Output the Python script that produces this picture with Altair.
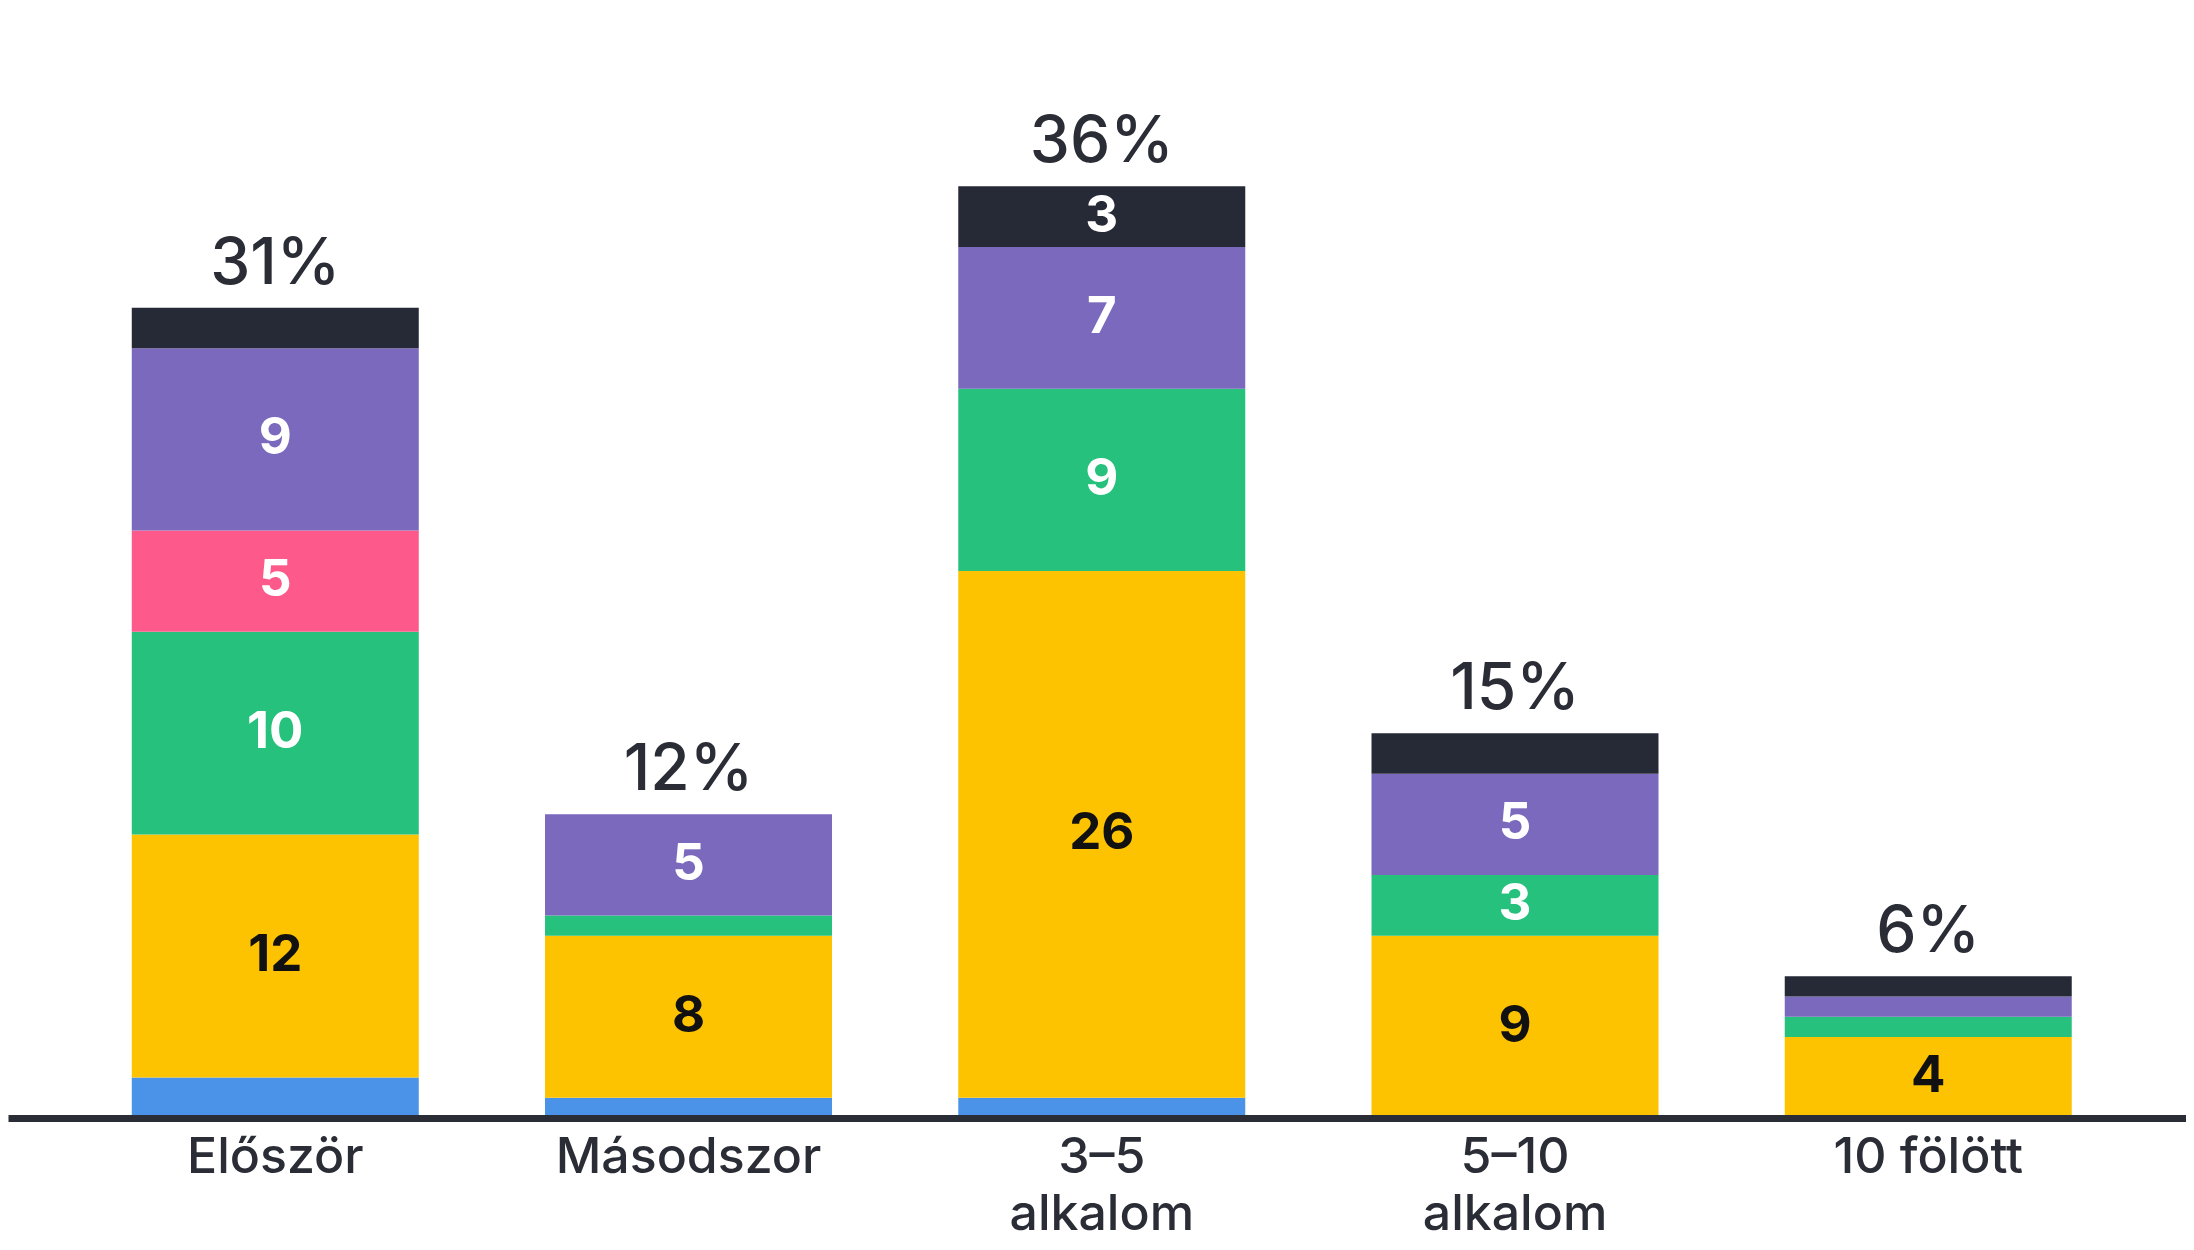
import altair as alt
import pandas as pd

categories = ["Először", "Másodszor", "3–5 alkalom", "5–10 alkalom", "10 fölött"]
pct_labels = ["31%", "12%", "36%", "15%", "6%"]

series_names = ["kék", "sárga", "zöld", "rózsaszín", "lila", "sötét"]
series_colors = ["#4a93e8", "#fdc300", "#27c17e", "#fd5a8b", "#7b69bd", "#262a36"]

blue = [2, 1, 1, 0, 0]
yellow = [12, 8, 26, 9, 4]
green = [10, 1, 9, 3, 1]
pink = [5, 0, 0, 0, 0]
purple = [9, 5, 7, 5, 1]
dark = [2, 0, 3, 2, 1]

series_values = [blue, yellow, green, pink, purple, dark]

rows = []
for si, (name, vals) in enumerate(zip(series_names, series_values)):
    for cat, v in zip(categories, vals):
        rows.append({"category": cat, "series": name, "order": si, "value": v})
df = pd.DataFrame(rows)
tot_df = pd.DataFrame({"category": categories, "pct": pct_labels})

FONT = "Inter"
TXT = "#2a2d35"

x_enc = alt.X(
    "category:N",
    sort=categories,
    scale=alt.Scale(paddingInner=0.3055, paddingOuter=0.288, align=0.52),
    axis=alt.Axis(
        title=None,
        labelAngle=0,
        labelFont=FONT,
        labelFontSize=50,
        labelFontWeight=500,
        labelColor=TXT,
        labelPadding=14,
        labelBaseline="top",
        labelLineHeight=57,
        labelLimit=0,
        labelOverlap=False,
        labelExpr="indexof(datum.label, 'alkalom') > 0 ? split(datum.label, ' ') : datum.label",
        ticks=False,
        tickSize=0,
        domainColor=TXT,
        domainWidth=7,
        zindex=1,
    ),
)
y_scale = alt.Scale(domain=[0, 54.8], nice=False, zero=True)

base = alt.Chart(df).transform_stack(
    stack="value",
    groupby=["category"],
    as_=["y0", "y1"],
    sort=[alt.SortField("order", order="ascending")],
)

bars = base.mark_bar().encode(
    x=x_enc,
    y=alt.Y("y0:Q", scale=y_scale, axis=None),
    y2="y1:Q",
    color=alt.Color("series:N", scale=alt.Scale(domain=series_names, range=series_colors), legend=None),
)

seg_text = base.transform_filter("datum.value >= 3").transform_calculate(
    mid="(datum.y0 + datum.y1) / 2"
).mark_text(font=FONT, fontWeight="bold", fontSize=51, baseline="middle").encode(
    x=alt.X("category:N", sort=categories),
    y=alt.Y("mid:Q", scale=y_scale),
    text="value:Q",
    color=alt.condition("datum.series == 'sárga'", alt.value("#111111"), alt.value("#ffffff")),
)

totals = alt.Chart(df).transform_aggregate(
    total="sum(value)", groupby=["category"]
).transform_lookup(
    lookup="category", from_=alt.LookupData(data=tot_df, key="category", fields=["pct"])
).mark_text(
    font=FONT, fontSize=64, fontWeight=500, color=TXT, baseline="alphabetic", dy=-24
).encode(
    x=alt.X("category:N", sort=categories),
    y=alt.Y("total:Q", scale=y_scale),
    text="pct:N",
)

chart = alt.layer(bars, seg_text, totals).properties(
    width=2178,
    height=1110,
    autosize=alt.AutoSizeParams(type="none"),
    padding={"left": 0, "top": 0, "right": 0, "bottom": 124},
    background="white",
).configure_view(stroke=None)

chart.save("out.html", embed_options={"renderer": "svg", "actions": False})
